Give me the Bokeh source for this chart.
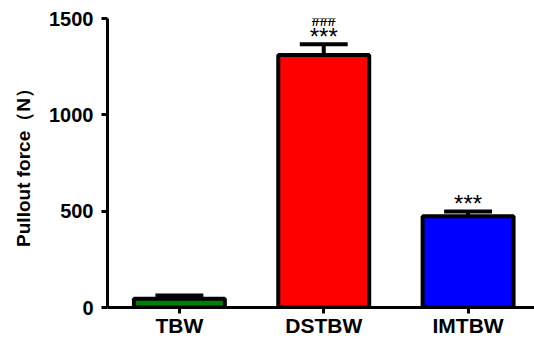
from bokeh.plotting import figure
from bokeh.models import Range1d, FixedTicker, ColumnDataSource, LabelSet
from bokeh.core.properties import value
from bokeh.embed import file_html
from bokeh.resources import INLINE

groups = ["TBW", "DSTBW", "IMTBW"]
means = [45, 1310, 473]
errors = [17, 56, 25]
colors = ["#008000", "#ff0000", "#0000ff"]
sig_star = ["", "***", "***"]
sig_hash = ["", "###", ""]
y_ticks = [0, 500, 1000, 1500]

xs = list(range(len(groups)))
ups = [m + e for m, e in zip(means, errors)]
cap_half = 0.166

src = ColumnDataSource(dict(
    x=xs, top=means, up=ups, color=colors,
    cl=[x - cap_half for x in xs], cr=[x + cap_half for x in xs],
    star=sig_star, hsh=sig_hash,
))

p = figure(width=534, height=343,
           x_range=Range1d(-0.498, 2.46), y_range=Range1d(0, 1500),
           output_backend="svg", toolbar_location=None,
           min_border_left=107, min_border_right=0,
           min_border_top=18, min_border_bottom=36)
p.grid.visible = False
p.outline_line_color = None

p.segment(x0="x", y0="top", x1="x", y1="up", source=src, line_color="black", line_width=4)
p.segment(x0="cl", y0="up", x1="cr", y1="up", source=src, line_color="black", line_width=4)
p.vbar(x="x", top="top", bottom=0, width=0.63, source=src,
       fill_color="color", line_color="black", line_width=4)

p.text(x="x", y="up", text="star", source=src, text_font=value("Liberation Sans"),
       text_font_size="24px", text_align="center", text_baseline="alphabetic",
       y_offset=-8, text_color="black")
hashes = LabelSet(x="x", y="up", text="hsh", source=src,
                  text_font="Liberation Sans", text_font_size="16px",
                  text_font_style="bold", text_align="center",
                  text_baseline="alphabetic", y_offset=18, text_color="black")
p.add_layout(hashes)

for ax in (p.xaxis[0], p.yaxis[0]):
    ax.axis_line_width = 3
    ax.major_tick_line_width = 3
    ax.major_tick_out = 6
    ax.major_tick_in = 0
    ax.minor_tick_line_color = None
    ax.major_label_text_font = "Liberation Sans"
    ax.major_label_text_font_style = "bold"
    ax.major_label_text_color = "black"

p.xaxis.ticker = FixedTicker(ticks=xs)
p.xaxis.major_label_overrides = {i: g for i, g in zip(xs, groups)}
p.xaxis.major_label_text_font_size = "21px"
p.xaxis.major_label_standoff = 0

p.yaxis.ticker = FixedTicker(ticks=y_ticks)
p.yaxis.major_label_text_font_size = "20px"
p.yaxis.major_label_standoff = 8
p.yaxis.axis_label = "Pullout force（N）"
p.yaxis.axis_label_text_font = "Liberation Sans"
p.yaxis.axis_label_text_font_style = "bold"
p.yaxis.axis_label_text_color = "black"
p.yaxis.axis_label_text_font_size = "19px"
p.yaxis.axis_label_standoff = 12

open("out.html", "w").write(file_html(p, INLINE))
